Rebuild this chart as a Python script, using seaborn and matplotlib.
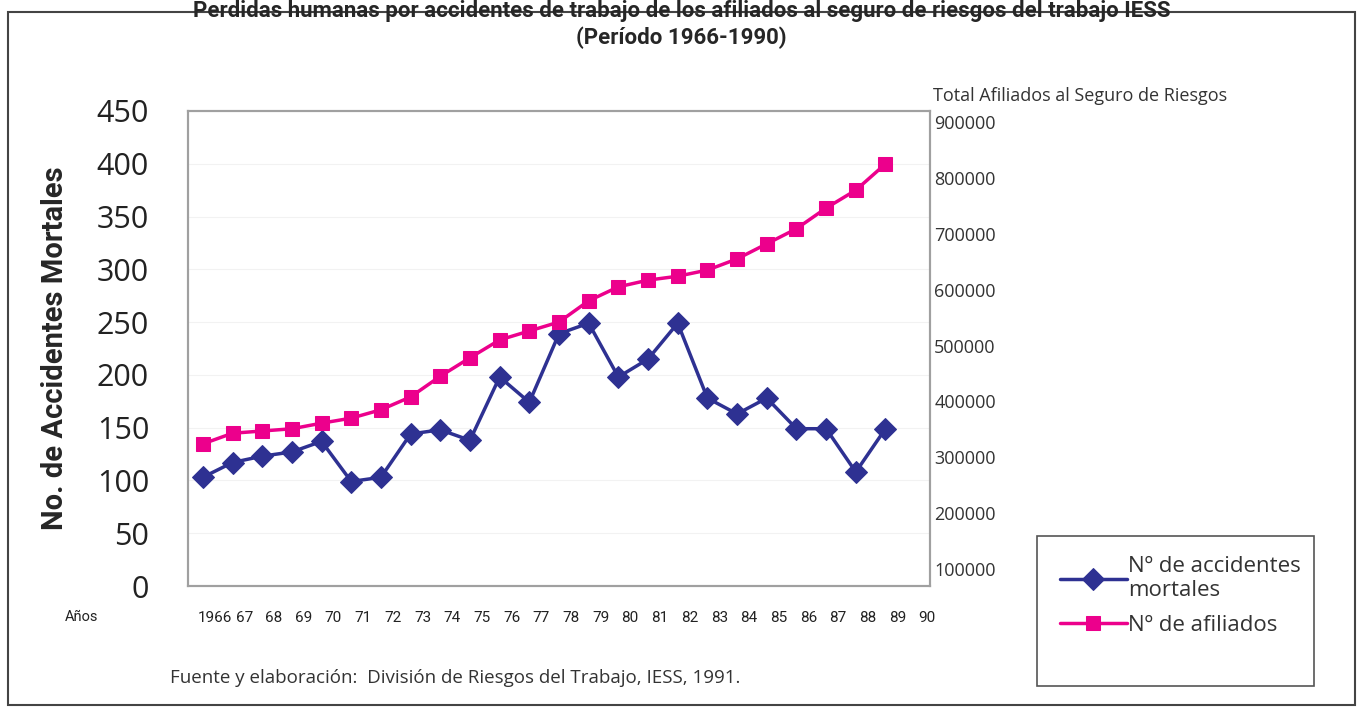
import matplotlib
matplotlib.use("Agg")
import matplotlib.pyplot as plt
import seaborn as sns
import pandas as pd
from matplotlib.patches import Rectangle

# data
years = list(range(1966, 1990))
year_labels = ["1966"] + [str(y)[2:] for y in range(1967, 1991)]
mortales = [103, 117, 123, 127, 137, 99, 103, 144, 148, 138, 198, 174,
            239, 249, 198, 215, 249, 178, 163, 178, 149, 149, 108, 149]
afiliados = [324000, 343000, 347000, 351000, 361000, 370000, 385000, 408000,
             445000, 478000, 510000, 526000, 542000, 580000, 605000, 617000,
             624000, 635000, 655000, 682000, 709000, 746000, 778000, 825000]
left_ticks = [0, 50, 100, 150, 200, 250, 300, 350, 400, 450]
right_ticks = [100000, 200000, 300000, 400000, 500000, 600000, 700000, 800000, 900000]

BLUE = "#2e3192"
PINK = "#ec008c"
FONT = ["Open Sans", "DejaVu Sans"]
NARROW = ["Roboto", "DejaVu Sans"]

sns.set_style("white")
plt.rcParams["font.family"] = FONT

df = pd.DataFrame({"pos": range(len(years)), "year": years,
                   "mortales": mortales, "afiliados": afiliados})

fig = plt.figure(figsize=(13.63, 7.07), dpi=100)
ax = fig.add_axes([188/1363, 1 - 586/707, (930-188)/1363, (586-111)/707])
ax2 = ax.twinx()

sns.lineplot(data=df, x="pos", y="mortales", ax=ax, color=BLUE, lw=2.5,
             marker="D", markersize=11, markeredgecolor=BLUE,
             label="Nº de accidentes\nmortales", legend=False, zorder=3)
sns.lineplot(data=df, x="pos", y="afiliados", ax=ax2, color=PINK, lw=2.5,
             marker="s", markersize=10, markeredgecolor=PINK,
             label="Nº de afiliados", legend=False)

ax.set_xlim(-0.5, 24.5)
ax.set_ylim(0, 450)
ax.set_yticks(left_ticks)
ax.set_yticklabels([str(t) for t in left_ticks], fontsize=22, color="#222222")
ax.tick_params(axis="y", length=0, pad=28)
ax.set_xticks([p + 0.4 for p in range(len(year_labels))])
ax.set_xticklabels(year_labels, fontsize=11, family=NARROW, color="#222222")
ax.tick_params(axis="x", length=0, pad=18)
ax.set_xlabel("")
ax.set_ylabel("No. de Accidentes Mortales", fontsize=21, fontweight="bold",
              family=NARROW)
ax.yaxis.set_label_coords(-0.16, 0.5)
ax.grid(axis="y", color="#f2f2f2", lw=0.8)
ax.set_axisbelow(True)

ax2.set_ylim(69600, 919700)
ax2.set_yticks(right_ticks)
ax2.set_yticklabels([str(t) for t in right_ticks], fontsize=13, color="#333333")
ax2.tick_params(axis="y", length=0, pad=3)
ax2.set_ylabel("")
ax2.grid(False)

for a in (ax, ax2):
    for s in a.spines.values():
        s.set_color("#a0a0a0")
        s.set_linewidth(1.5)

fig.text(933/1363, 1 - 96/707, "Total Afiliados al Seguro de Riesgos",
         fontsize=13, color="#333333", ha="left", va="center")
fig.text(82/1363, 1 - 617/707, "Años", fontsize=10.5, family=NARROW,
         color="#222222", ha="center", va="center")
fig.text(170/1363, 1 - 678/707,
         "Fuente y elaboración:  División de Riesgos del Trabajo, IESS, 1991.",
         fontsize=13.5, color="#333333", ha="left", va="center")

fig.text(0.5, 1 - 11/707,
         "Perdidas humanas por accidentes de trabajo de los afiliados al seguro de riesgos del trabajo IESS",
         fontsize=16, fontweight="bold", family=NARROW, ha="center", va="center")
fig.text(0.5, 1 - 38/707, "(Período 1966-1990)",
         fontsize=16, fontweight="bold", family=NARROW, ha="center", va="center")

# outer frame and legend box
fig.patches.append(Rectangle((8/1363, 2/707), 1347/1363, 693/707,
                             transform=fig.transFigure, fill=False,
                             ec="#444444", lw=1.5, zorder=0))
fig.patches.append(Rectangle((1037/1363, 1 - 686/707), 277/1363, 150/707,
                             transform=fig.transFigure, fill=False,
                             ec="#555555", lw=1.2))

h1, l1 = ax.get_legend_handles_labels()
h2, l2 = ax2.get_legend_handles_labels()
fig.legend(h1 + h2, l1 + l2, loc="upper left",
           bbox_to_anchor=(1040/1363, 1 - 536/707), frameon=False,
           fontsize=16, handlelength=3.0, handletextpad=0.05,
           labelspacing=0.6, labelcolor="#333333")

fig.savefig("out.png", dpi=100, facecolor="white")
